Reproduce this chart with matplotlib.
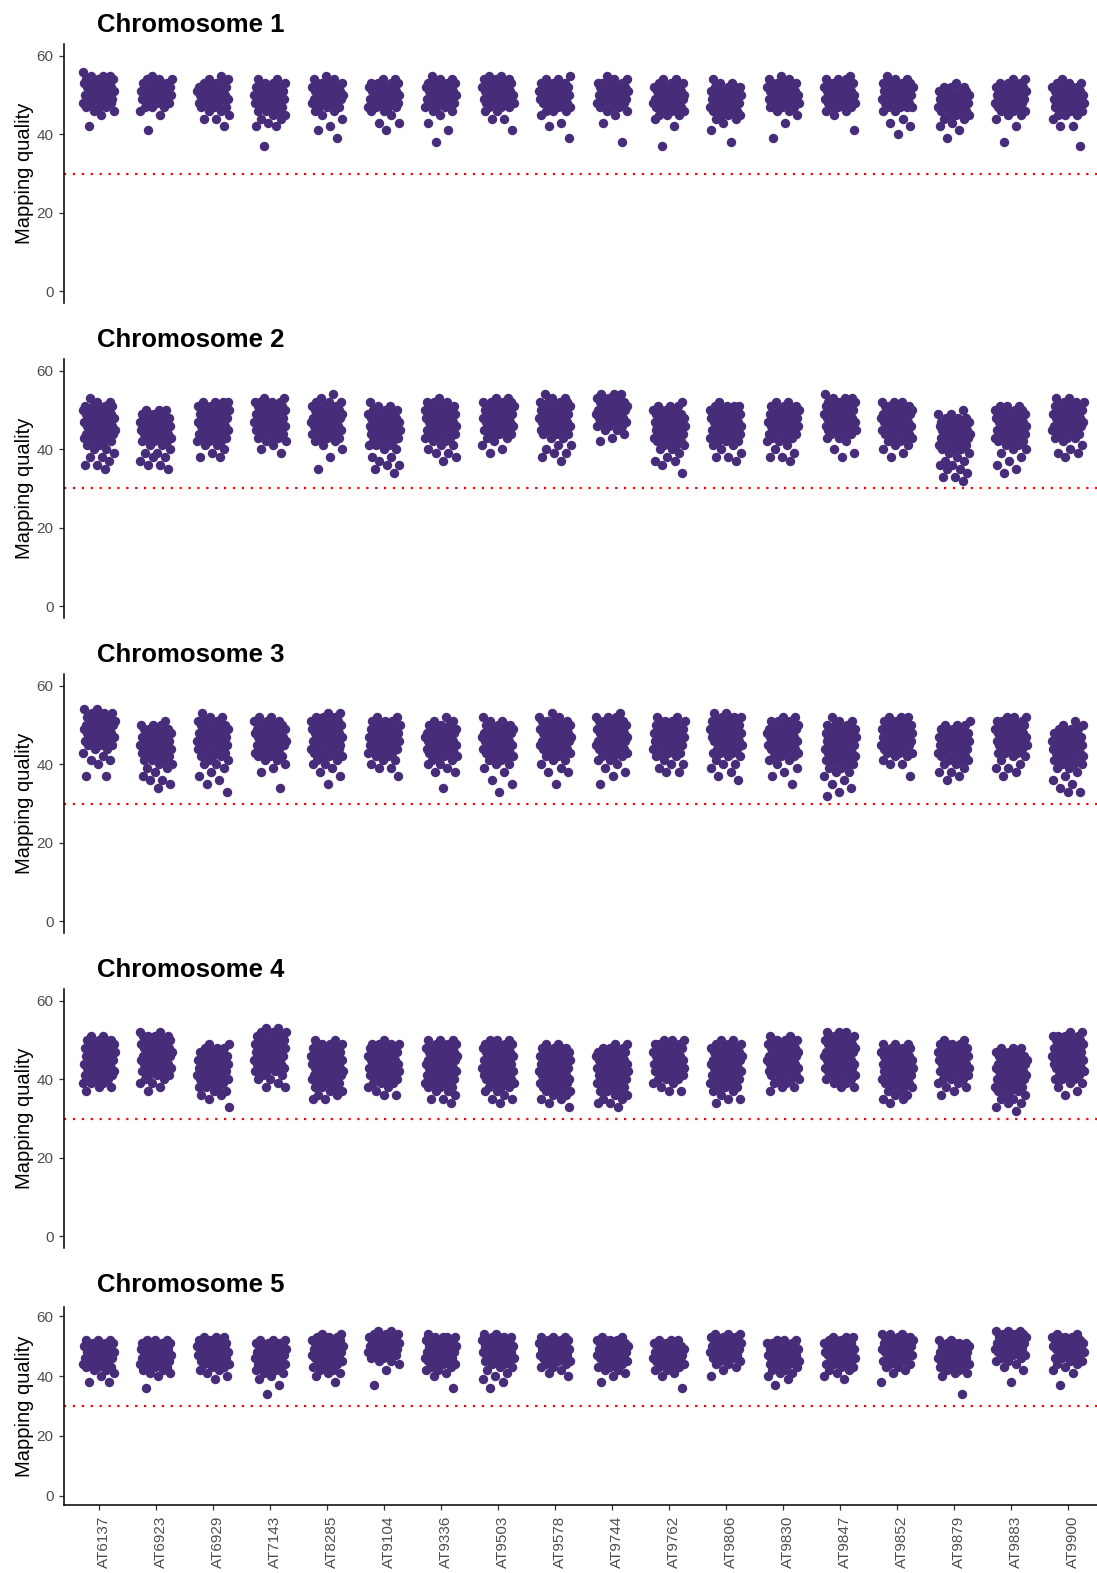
import numpy as np
import matplotlib
matplotlib.use("Agg")
import matplotlib.pyplot as plt
import matplotlib.transforms as mtransforms

plt.rcParams["font.family"] = ["Liberation Sans", "DejaVu Sans"]

# ---------------- data ----------------
samples = ["AT6137", "AT6923", "AT6929", "AT7143", "AT8285", "AT9104", "AT9336",
           "AT9503", "AT9578", "AT9744", "AT9762", "AT9806", "AT9830", "AT9847",
           "AT9852", "AT9879", "AT9883", "AT9900"]
chromosomes = ["Chromosome 1", "Chromosome 2", "Chromosome 3", "Chromosome 4", "Chromosome 5"]
y_ticks = [0, 20, 40, 60]
mapq_threshold = 30

# mapping quality values per sample, written as "value:count"
chr1_mapq = [
    "56:1 55:3 54:5 53:5 52:5 51:5 50:5 49:5 48:4 47:3 46:2 45:1 42:1",
    "55:1 54:3 53:4 52:5 51:5 50:5 49:5 48:4 47:3 46:1 45:1 41:1",
    "55:1 54:2 53:4 52:5 51:5 50:5 49:5 48:4 47:3 46:2 45:1 44:2 42:1",
    "54:2 53:3 52:5 51:5 50:5 49:5 48:5 47:4 46:3 45:2 44:2 43:1 42:2 37:1",
    "55:1 54:2 53:4 52:5 51:5 50:5 49:5 48:4 47:4 46:2 45:1 44:1 42:1 41:1 39:1",
    "54:2 53:4 52:5 51:5 50:5 49:5 48:5 47:4 46:2 45:1 43:2 41:1",
    "55:1 54:2 53:4 52:5 51:5 50:5 49:5 48:4 47:3 46:2 45:1 43:1 41:1 38:1",
    "55:2 54:3 53:5 52:5 51:5 50:5 49:5 48:4 47:3 46:2 44:2 41:1",
    "55:1 54:2 53:4 52:5 51:5 50:5 49:5 48:5 47:4 46:3 45:1 43:1 42:1 39:1",
    "55:1 54:2 53:4 52:5 51:5 50:5 49:5 48:4 47:3 46:2 45:1 43:1 38:1",
    "54:2 53:3 52:4 51:5 50:5 49:5 48:5 47:5 46:4 45:3 44:1 42:1 37:1",
    "54:1 53:2 52:4 51:5 50:5 49:5 48:5 47:5 46:4 45:3 44:2 43:1 41:1 38:1",
    "55:1 54:2 53:4 52:5 51:5 50:5 49:5 48:5 47:4 46:2 45:1 43:1 39:1",
    "55:1 54:3 53:4 52:5 51:5 50:5 49:5 48:5 47:3 46:2 45:1 41:1",
    "55:1 54:2 53:4 52:5 51:5 50:5 49:5 48:5 47:4 46:2 44:1 43:1 42:1 40:1",
    "53:1 52:3 51:4 50:5 49:5 48:5 47:5 46:4 45:3 44:2 43:1 42:1 41:1 39:1",
    "54:2 53:3 52:5 51:5 50:5 49:5 48:5 47:4 46:3 45:2 44:1 42:1 38:1",
    "54:1 53:3 52:4 51:5 50:5 49:5 48:5 47:5 46:4 45:3 44:1 42:2 37:1",
]
chr2_mapq = [
    "53:1 52:2 51:4 50:5 49:5 48:5 47:5 46:5 45:5 44:5 43:4 42:3 41:2 40:2 39:1 38:2 37:1 36:2 35:1",
    "50:3 49:4 48:5 47:5 46:5 45:5 44:5 43:4 42:3 41:2 40:1 39:2 38:2 37:1 36:2 35:1",
    "52:4 51:5 50:5 49:5 48:5 47:5 46:5 45:4 44:4 43:3 42:3 41:2 40:1 39:1 38:2",
    "53:2 52:5 51:5 50:5 49:5 48:5 47:5 46:5 45:4 44:3 43:3 42:2 41:1 40:1 39:1",
    "54:1 53:1 52:3 51:4 50:5 49:5 48:5 47:5 46:5 45:5 44:4 43:3 42:2 41:1 40:1 38:1 35:1",
    "52:1 51:2 50:3 49:4 48:5 47:5 46:5 45:5 44:5 43:4 42:3 41:3 40:2 38:2 37:1 36:2 35:1 34:1",
    "53:1 52:3 51:4 50:5 49:5 48:5 47:5 46:5 45:4 44:4 43:3 42:2 41:2 40:1 39:2 38:1 37:1",
    "53:2 52:4 51:5 50:5 49:5 48:5 47:5 46:4 45:3 44:3 43:2 42:1 41:1 40:1 39:1",
    "54:1 53:2 52:4 51:5 50:5 49:5 48:5 47:5 46:4 45:4 44:3 43:2 41:2 40:1 39:2 38:1 37:1",
    "54:3 53:4 52:5 51:5 50:5 49:5 48:5 47:4 46:3 45:2 44:1 43:1 42:1",
    "52:1 51:3 50:4 49:5 48:5 47:5 46:5 45:5 44:5 43:4 42:3 41:3 40:2 39:1 38:1 37:2 36:1 34:1",
    "52:1 51:4 50:5 49:5 48:5 47:5 46:5 45:5 44:4 43:3 42:3 41:2 40:1 39:1 38:2 37:1",
    "52:2 51:3 50:4 49:5 48:5 47:5 46:5 45:4 44:4 43:3 42:2 41:1 40:1 39:1 38:2 37:1",
    "54:1 53:3 52:5 51:5 50:5 49:5 48:5 47:5 46:5 45:4 44:3 43:2 42:1 40:1 39:1 38:1",
    "52:3 51:5 50:5 49:5 48:5 47:5 46:5 45:4 44:4 43:3 42:2 41:2 40:1 39:1 38:1",
    "50:1 49:2 48:4 47:5 46:5 45:5 44:5 43:5 42:4 41:4 40:3 39:2 38:1 37:2 36:2 35:2 34:1 33:2 32:1",
    "51:3 50:4 49:5 48:5 47:5 46:5 45:5 44:4 43:4 42:3 41:2 40:2 39:1 38:1 37:1 36:1 35:1 34:1",
    "53:2 52:3 51:5 50:5 49:5 48:5 47:5 46:5 45:4 44:3 43:3 42:1 41:1 40:1 39:2 38:1",
]
chr3_mapq = [
    "54:2 53:3 52:4 51:5 50:5 49:5 48:5 47:5 46:4 45:3 44:2 43:1 42:1 41:2 40:1 37:2",
    "51:1 50:3 49:4 48:5 47:5 46:5 45:5 44:5 43:4 42:4 41:3 40:2 39:2 38:1 37:1 36:2 35:1 34:1",
    "53:1 52:2 51:3 50:4 49:4 48:5 47:5 46:5 45:5 44:4 43:3 42:3 41:2 40:2 39:1 38:1 37:1 36:1 35:1 33:1",
    "52:2 51:3 50:4 49:5 48:5 47:5 46:5 45:5 44:4 43:3 42:3 41:2 40:1 39:1 38:1 34:1",
    "53:2 52:3 51:4 50:5 49:5 48:5 47:5 46:5 45:5 44:4 43:3 42:3 41:2 40:2 39:1 38:1 37:1 35:1",
    "52:2 51:3 50:4 49:5 48:5 47:5 46:5 45:5 44:4 43:3 42:2 41:2 40:1 39:2 37:1",
    "52:1 51:2 50:4 49:5 48:5 47:5 46:5 45:5 44:4 43:4 42:3 41:2 40:2 39:1 38:2 34:1",
    "52:1 51:2 50:4 49:5 48:5 47:5 46:5 45:5 44:4 43:4 42:3 41:2 40:2 39:1 38:1 36:1 35:1 33:1",
    "53:1 52:2 51:4 50:5 49:5 48:5 47:5 46:5 45:5 44:4 43:3 42:2 41:2 40:1 39:1 38:2 35:1",
    "53:1 52:3 51:4 50:5 49:5 48:5 47:5 46:5 45:5 44:4 43:3 42:3 41:2 40:1 39:1 38:1 37:1 35:1",
    "52:2 51:4 50:5 49:5 48:5 47:5 46:5 45:4 44:4 43:3 42:2 41:1 40:2 39:1 38:2",
    "53:2 52:4 51:5 50:5 49:5 48:5 47:5 46:5 45:4 44:3 43:3 42:2 41:1 40:2 39:1 38:1 37:1 36:1",
    "52:2 51:3 50:4 49:5 48:5 47:5 46:5 45:5 44:4 43:3 42:3 41:2 40:1 39:1 38:1 37:1 35:1",
    "52:1 51:2 50:3 49:4 48:5 47:5 46:5 45:5 44:5 43:4 42:4 41:3 40:3 39:2 38:2 37:1 36:1 35:1 34:1 33:1 32:1",
    "52:3 51:4 50:5 49:5 48:5 47:5 46:5 45:5 44:4 43:3 42:2 41:1 40:2 37:1",
    "51:1 50:3 49:4 48:5 47:5 46:5 45:5 44:5 43:4 42:3 41:3 40:2 39:1 38:2 37:1 36:1",
    "52:3 51:4 50:5 49:5 48:5 47:5 46:5 45:4 44:4 43:3 42:2 41:1 40:1 39:2 38:1 37:1",
    "51:1 50:2 49:3 48:4 47:5 46:5 45:5 44:5 43:5 42:4 41:3 40:3 39:2 38:1 37:1 36:1 35:1 34:1 33:2",
]
chr4_mapq = [
    "51:2 50:4 49:5 48:5 47:5 46:5 45:5 44:5 43:5 42:5 41:4 40:4 39:3 38:2 37:1",
    "52:2 51:4 50:5 49:5 48:5 47:5 46:5 45:5 44:5 43:4 42:4 41:3 40:2 39:2 38:1 37:1",
    "49:2 48:3 47:4 46:5 45:5 44:5 43:5 42:5 41:5 40:5 39:4 38:3 37:2 36:2 35:1 33:1",
    "53:2 52:3 51:4 50:5 49:5 48:5 47:5 46:5 45:5 44:5 43:4 42:3 41:2 40:2 39:1 38:2",
    "50:2 49:4 48:5 47:5 46:5 45:5 44:5 43:5 42:5 41:5 40:5 39:4 38:3 37:2 36:2 35:2",
    "50:1 49:4 48:5 47:5 46:5 45:5 44:5 43:5 42:5 41:4 40:4 39:3 38:2 37:1 36:2",
    "50:3 49:4 48:5 47:5 46:5 45:5 44:5 43:5 42:5 41:5 40:4 39:4 38:3 37:2 36:1 35:2 34:1",
    "50:3 49:4 48:5 47:5 46:5 45:5 44:5 43:5 42:5 41:5 40:4 39:3 38:3 37:2 36:1 35:2 34:1",
    "49:2 48:4 47:5 46:5 45:5 44:5 43:5 42:5 41:5 40:5 39:4 38:4 37:3 36:2 35:2 34:1 33:1",
    "49:2 48:3 47:5 46:5 45:5 44:5 43:5 42:5 41:5 40:5 39:4 38:3 37:3 36:2 35:2 34:2 33:1",
    "50:3 49:4 48:5 47:5 46:5 45:5 44:5 43:5 42:4 41:4 40:3 39:2 38:1 37:2",
    "50:2 49:3 48:4 47:5 46:5 45:5 44:5 43:5 42:5 41:5 40:4 39:3 38:3 37:2 36:1 35:2 34:1",
    "51:2 50:4 49:5 48:5 47:5 46:5 45:5 44:5 43:5 42:4 41:3 40:3 39:2 38:2 37:1",
    "52:3 51:4 50:5 49:5 48:5 47:5 46:5 45:5 44:5 43:5 42:4 41:3 40:3 39:2 38:2",
    "49:3 48:4 47:5 46:5 45:5 44:5 43:5 42:5 41:5 40:4 39:4 38:3 37:2 36:2 35:2 34:1",
    "50:2 49:4 48:5 47:5 46:5 45:5 44:5 43:4 42:4 41:3 40:3 39:2 38:2 37:1 36:1",
    "48:3 47:4 46:5 45:5 44:5 43:5 42:5 41:5 40:5 39:4 38:4 37:3 36:2 35:2 34:2 33:1 32:1",
    "52:2 51:4 50:5 49:5 48:5 47:5 46:5 45:5 44:5 43:4 42:4 41:3 40:3 39:2 38:1 37:1 36:1",
]
chr5_mapq = [
    "52:3 51:4 50:4 49:4 48:4 47:4 46:4 45:4 44:3 43:3 42:2 41:1 40:1 38:2",
    "52:3 51:4 50:4 49:4 48:4 47:4 46:4 45:4 44:3 43:3 42:2 41:2 40:1 36:1",
    "53:3 52:4 51:4 50:4 49:4 48:4 47:4 46:3 45:3 44:3 43:2 42:2 41:1 40:1 39:1",
    "52:3 51:4 50:4 49:4 48:4 47:4 46:4 45:4 44:4 43:3 42:3 41:2 40:1 39:1 37:1 34:1",
    "54:2 53:4 52:4 51:4 50:4 49:4 48:4 47:4 46:3 45:3 44:3 43:2 42:2 41:2 40:1 38:1",
    "55:2 54:4 53:4 52:4 51:4 50:4 49:4 48:3 47:3 46:2 45:2 44:1 42:1 37:1",
    "54:1 53:4 52:4 51:4 50:4 49:4 48:4 47:4 46:4 45:3 44:3 43:2 42:2 41:1 40:1 36:1",
    "54:2 53:4 52:4 51:4 50:4 49:4 48:4 47:4 46:3 45:3 44:2 43:2 42:1 41:1 40:1 39:1 38:1 36:1",
    "53:3 52:4 51:4 50:4 49:4 48:4 47:4 46:3 45:3 44:2 43:2 42:1 41:1 40:1",
    "53:2 52:4 51:4 50:4 49:4 48:4 47:4 46:4 45:3 44:3 43:2 42:2 41:1 40:1 38:1",
    "52:3 51:4 50:4 49:4 48:4 47:4 46:4 45:4 44:3 43:3 42:2 41:1 40:1 36:1",
    "54:3 53:4 52:4 51:4 50:4 49:4 48:4 47:3 46:3 45:2 44:2 43:1 42:1 40:1",
    "52:3 51:4 50:4 49:4 48:4 47:4 46:4 45:4 44:3 43:2 42:2 41:2 40:1 39:1 37:1",
    "53:3 52:4 51:4 50:4 49:4 48:4 47:4 46:3 45:3 44:3 43:2 42:2 41:1 40:1 39:1",
    "54:3 53:4 52:4 51:4 50:4 49:4 48:4 47:3 46:3 45:3 44:2 43:2 42:1 41:1 38:1",
    "52:2 51:4 50:4 49:4 48:4 47:4 46:4 45:4 44:3 43:3 42:2 41:2 40:1 34:1",
    "55:3 54:4 53:4 52:4 51:4 50:4 49:4 48:3 47:3 46:2 45:2 44:1 43:1 42:1 38:1",
    "54:2 53:4 52:4 51:4 50:4 49:4 48:4 47:3 46:3 45:2 44:2 43:1 42:1 41:1 37:1",
]
all_chr_mapq = [chr1_mapq, chr2_mapq, chr3_mapq, chr4_mapq, chr5_mapq]


def expand(spec):
    vals = []
    for tok in spec.split():
        v, c = tok.split(":")
        vals += [float(v)] * int(c)
    return np.array(vals)


# ---------------- layout ----------------
W, H = 1097, 1573
fig = plt.figure(figsize=(W / 100, H / 100), dpi=100)

panel_px = [(44, 303), (359, 618), (674, 933), (989, 1248), (1307, 1505)]
title_baseline = [32, 347, 662, 977, 1292]
left_px, right_px = 64, 1097
point_color = "#472C7A"
gray30 = "#4D4D4D"
jitter_half = 0.28
phi = 0.6180339887

for k, (top, bot) in enumerate(panel_px):
    ax = fig.add_axes([left_px / W, 1 - bot / H, (right_px - left_px) / W, (bot - top) / H])
    data = all_chr_mapq[k]
    for i, spec in enumerate(data):
        y = expand(spec)
        n = len(y)
        phase = (i * 0.371 + k * 0.213) % 1.0
        off = (((np.arange(n) * phi + phase) % 1.0) - 0.5) * 2 * jitter_half
        ax.scatter(i + off, y, s=46, color=point_color, linewidths=0, zorder=2)
    ax.axhline(mapq_threshold, color="#FF0000", lw=1.6, linestyle=(0, (1, 3)), zorder=1)

    ax.set_xlim(-0.614, 17.51)
    ax.set_ylim(-3.06, 63.06)
    ax.set_yticks(y_ticks)
    ax.set_yticklabels([str(t) for t in y_ticks])
    for side in ["top", "right"]:
        ax.spines[side].set_visible(False)
    ax.spines["left"].set_linewidth(1.1)
    ax.spines["left"].set_color("black")
    ax.tick_params(axis="y", length=3.4, width=0.9, color="#333333",
                   labelsize=11, labelcolor=gray30, pad=4)
    ax.set_ylabel("Mapping quality", fontsize=14.5, color="black")
    ax.yaxis.set_label_coords((34 - left_px) / (right_px - left_px), 0.5)

    if k < 4:
        ax.spines["bottom"].set_visible(False)
        ax.set_xticks([])
    else:
        ax.spines["bottom"].set_linewidth(1.1)
        ax.spines["bottom"].set_color("black")
        ax.set_xticks(range(len(samples)))
        ax.set_xticklabels(samples, rotation=90)
        ax.tick_params(axis="x", length=3.6, width=0.9, color="#333333",
                       labelsize=11, labelcolor=gray30, pad=4)
        shift = mtransforms.ScaledTranslation(5 / 100, 0, fig.dpi_scale_trans)
        for lab in ax.get_xticklabels():
            lab.set_transform(lab.get_transform() + shift)

    fig.text(97 / W, 1 - title_baseline[k] / H, chromosomes[k], fontsize=18.5,
             fontweight="bold", ha="left", va="baseline", color="black")

fig.savefig("out.png", dpi=100)
